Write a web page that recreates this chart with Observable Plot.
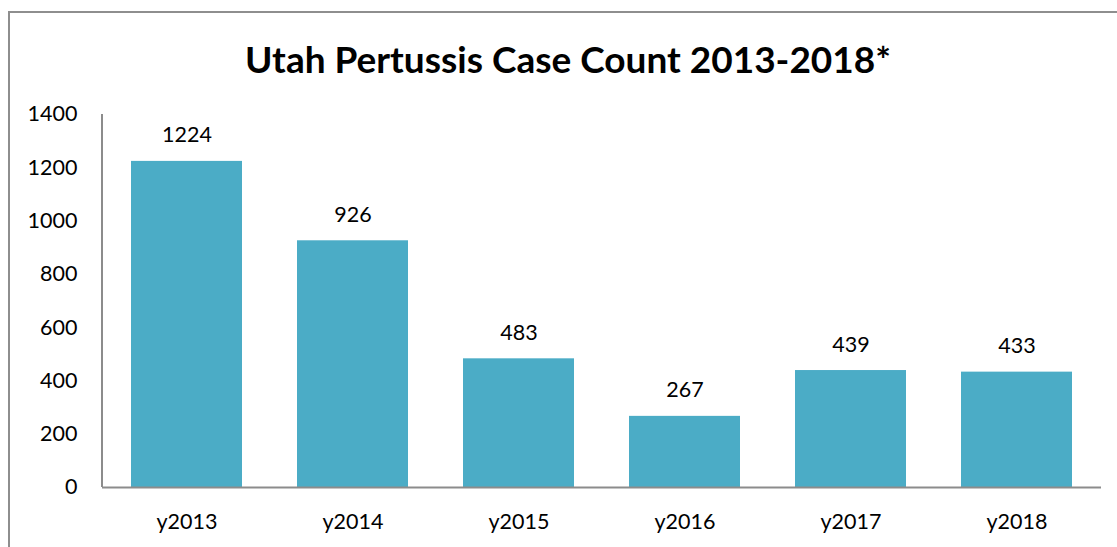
<!DOCTYPE html>
<html>
<head>
<meta charset="utf-8">
<script src="https://cdn.jsdelivr.net/npm/d3@7"></script>
<script src="https://cdn.jsdelivr.net/npm/@observablehq/plot@0.6"></script>
<style>
  html, body { margin: 0; padding: 0; background: #fff; overflow: hidden; }
  #wrap { position: relative; width: 1117px; height: 547px; }
  #border { position: absolute; left: 8px; top: 11px; width: 1200px; height: 600px;
            border-left: 2px solid #8e8e8e; border-top: 2px solid #8e8e8e; box-sizing: border-box; }
  #chart { position: absolute; left: 0; top: 0; }
</style>
</head>
<body>
<div id="wrap"><div id="border"></div><div id="chart"></div></div>
<script>
const title = "Utah Pertussis Case Count 2013-2018*";
const years = ["y2013", "y2014", "y2015", "y2016", "y2017", "y2018"];
const cases = [1224, 926, 483, 267, 439, 433];
const yTicks = [0, 200, 400, 600, 800, 1000, 1200, 1400];

const data = years.map((y, i) => ({year: y, count: cases[i]}));
const font = "Lato, 'Open Sans', sans-serif";

const leftLine = (index, scales, values, dimensions) => {
  const g = d3.create("svg:g");
  const x = dimensions.marginLeft;
  g.append("line")
    .attr("x1", x).attr("x2", x)
    .attr("y1", scales.y(1400)).attr("y2", scales.y(0))
    .attr("stroke", "#8c8c8c").attr("stroke-width", 2);
  return g.node();
};

const chart = Plot.plot({
  width: 1117,
  height: 547,
  marginLeft: 102,
  marginRight: 16,
  marginTop: 114,
  marginBottom: 60,
  style: {fontFamily: font, fontSize: "21.5px", color: "#000", background: "transparent"},
  x: {domain: years, paddingInner: 0.33, paddingOuter: 0.165, label: null},
  y: {domain: [0, 1400], label: null},
  marks: [
    Plot.barY(data, {x: "year", y: "count", fill: "#4bacc6"}),
    Plot.axisY({ticks: yTicks, tickFormat: d => String(d), tickSize: 0, tickPadding: 25, fontSize: 21.5, label: null}),
    Plot.axisX({tickSize: 0, tickPadding: 26, fontSize: 21.5, label: null}),
    Plot.ruleY([0], {stroke: "#8c8c8c", strokeWidth: 2}),
    leftLine,
    Plot.text(data, {x: "year", y: "count", text: d => String(d.count), lineAnchor: "bottom", dy: -19, fontSize: 21.5, fill: "#000"}),
    Plot.text([title], {frameAnchor: "top", dy: -42, lineAnchor: "bottom", text: d => d, fontSize: 37, fontWeight: "bold", fill: "#000", dx: -34})
  ]
});
document.getElementById("chart").appendChild(chart);
</script>
</body>
</html>
